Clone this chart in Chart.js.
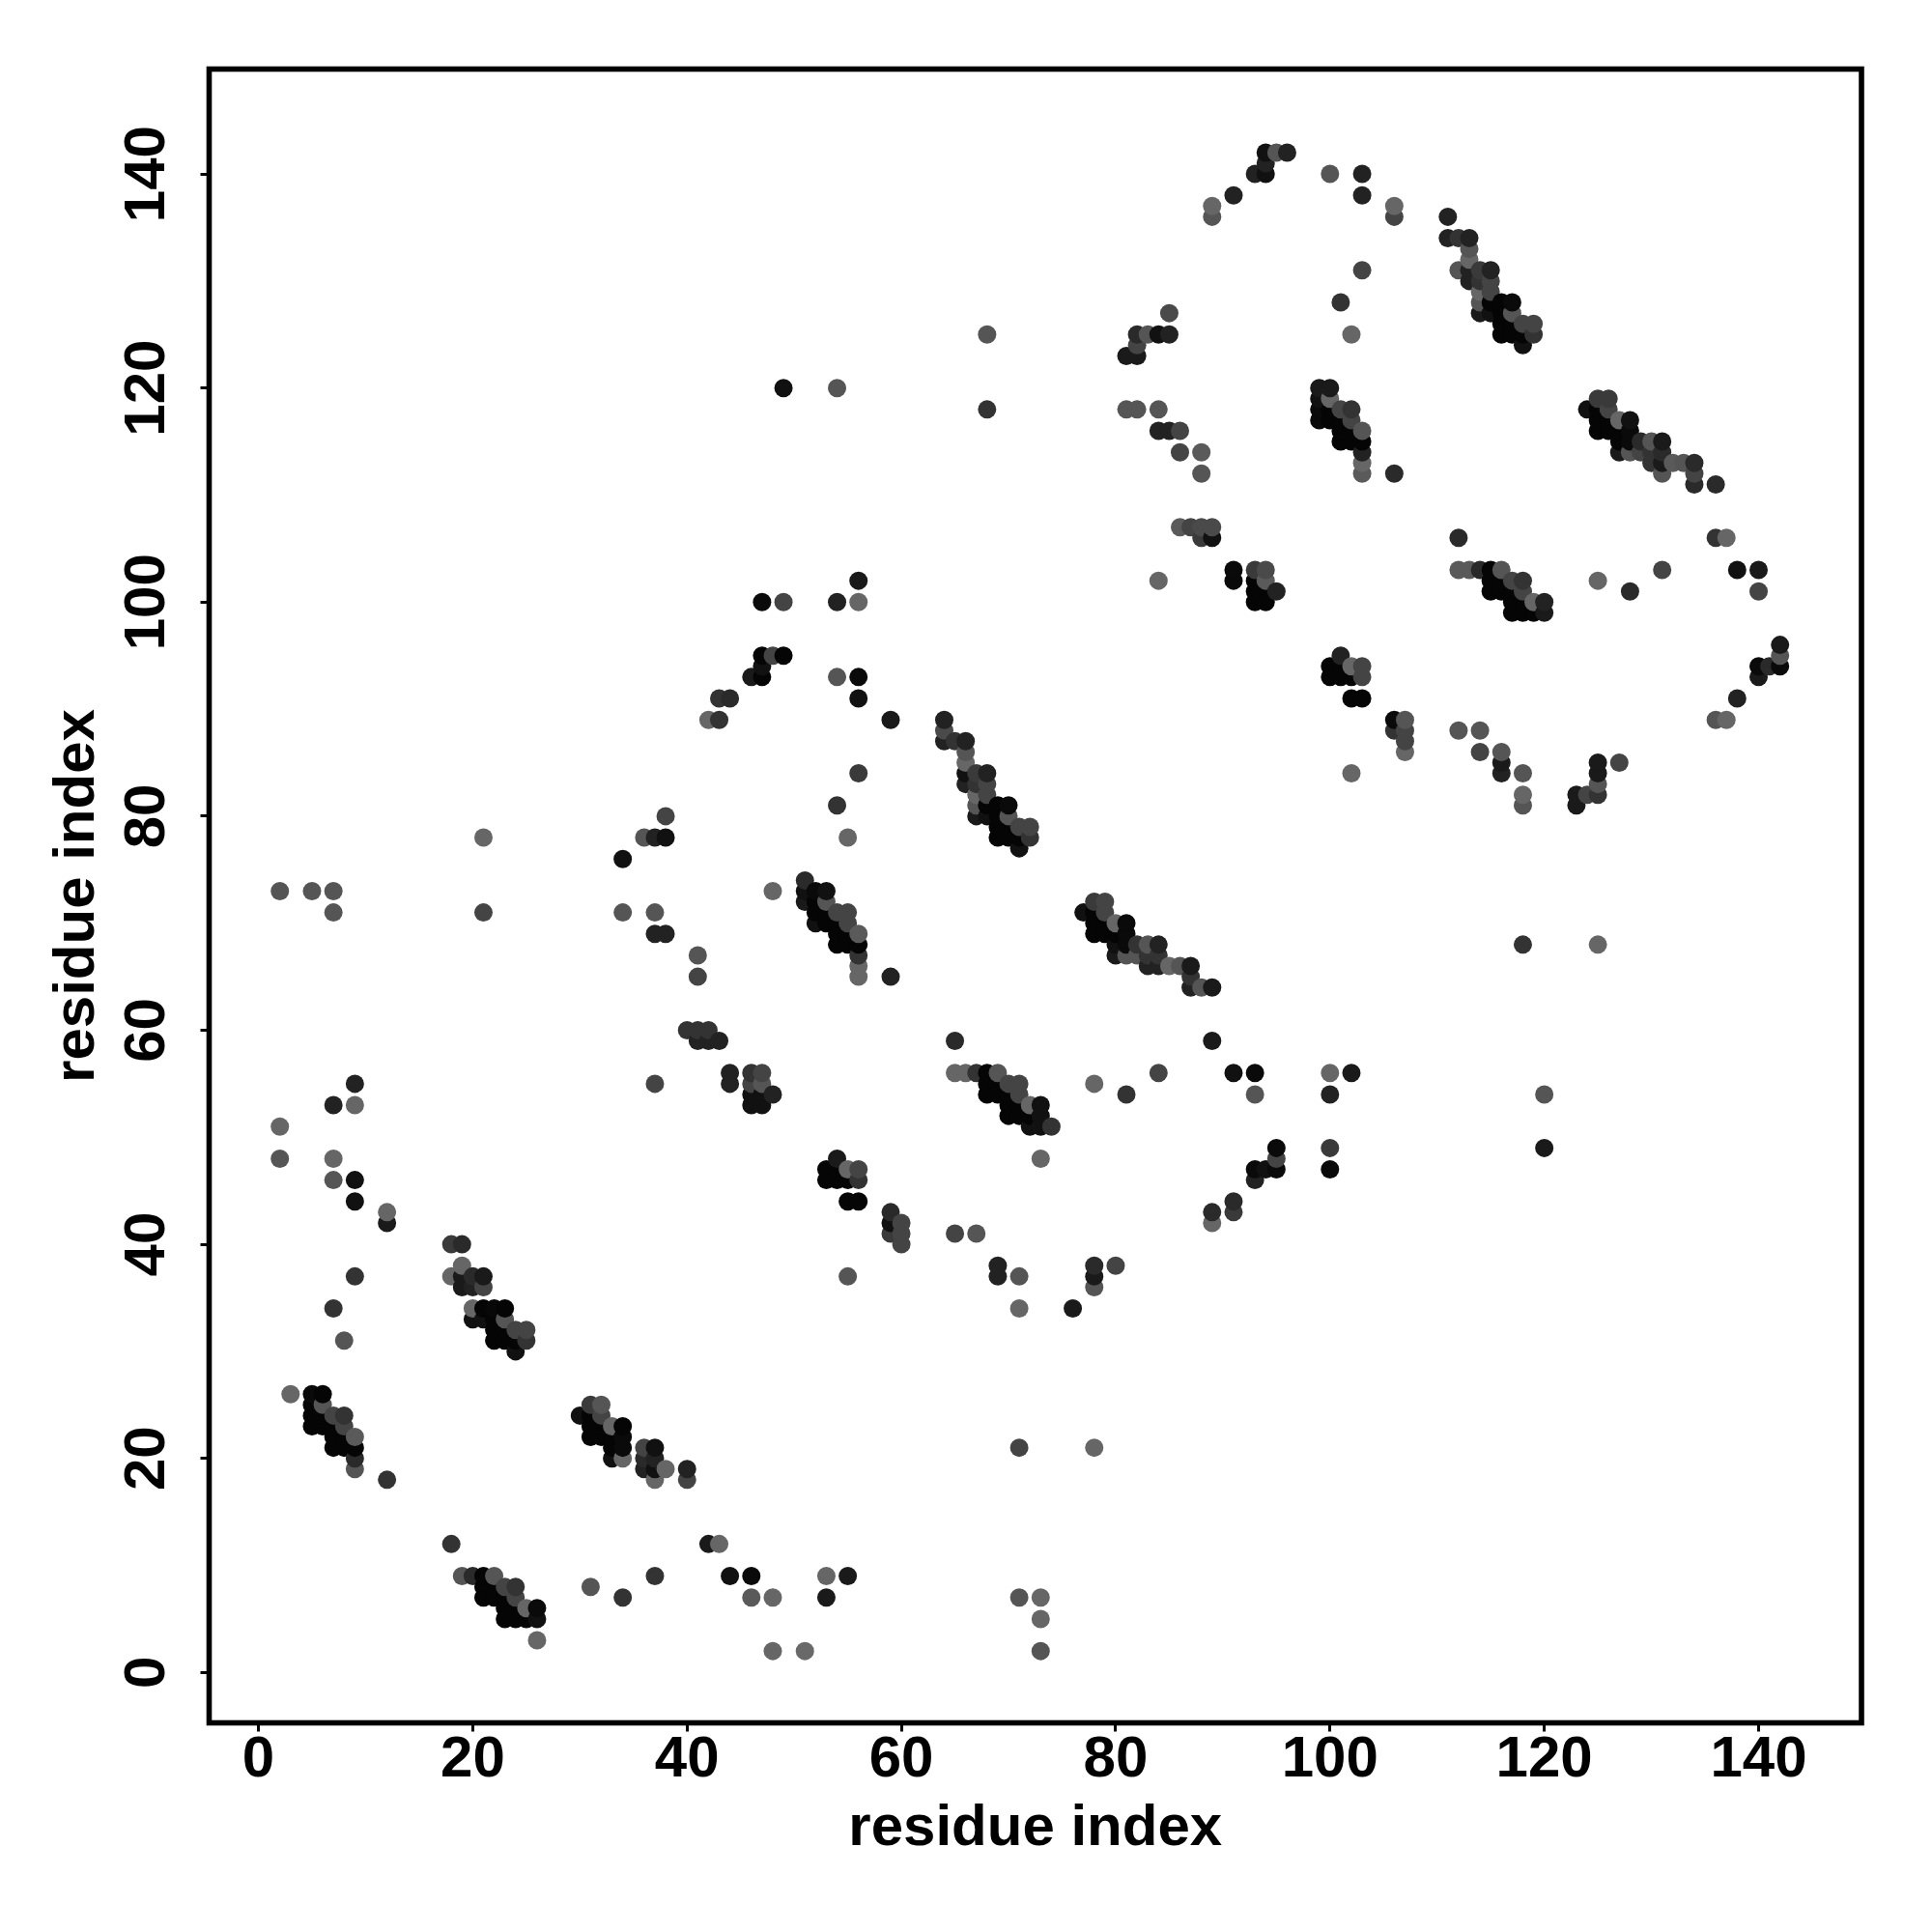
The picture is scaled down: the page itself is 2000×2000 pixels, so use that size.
<!DOCTYPE html>
<html>
<head>
<meta charset="utf-8">
<style>html,body{margin:0;padding:0;background:#fff}canvas{display:block}</style>
<script src="https://cdn.jsdelivr.net/npm/chart.js@4"></script>
</head>
<body>
<canvas id="c" width="2000" height="2000"></canvas>
<script>
const axisTicks = [0,20,40,60,80,100,120,140];
const axisTitle = "residue index";

const residueX = [
2,5,7,7,21,21,2,2,7,7,7,9,9,9,9,12,12,9,7,8,12,3,
5,6,6,7,8,8,9,9,9,9,5,5,5,6,6,7,7,7,8,8,
18,19,19,18,19,20,21,19,20,21,20,21,22,23,20,21,22,23,24,25,22,23,22,23,24,25,24,
18,19,20,21,22,21,21,22,22,23,24,24,23,23,23,24,24,25,25,26,26,26,31,34,37,
30,31,32,32,33,34,31,31,31,32,32,33,34,34,33,33,34,36,37,36,37,36,37,38,37,40,40,
42,43,44,46,46,48,48,51,53,55,53,71,71,71,73,73,73,78,
34,34,37,36,37,38,38,37,38,41,41,37,
56,47,49,54,56,47,48,49,47,47,46,54,56,56,43,44,42,43,59,56,54,55,48,49,54,68,68,
64,64,64,65,66,66,66,66,66,67,68,68,67,68,67,67,67,68,68,69,70,69,70,71,72,69,70,69,70,71,72,71,
51,51,51,52,53,52,53,52,52,53,53,54,55,55,54,54,54,55,55,56,56,56,56,56,59,
77,78,79,79,80,81,78,78,78,79,79,80,81,81,80,80,81,82,83,84,82,83,84,83,84,85,86,87,87,87,88,89,
65,89,65,66,67,68,69,70,71,71,72,73,68,68,69,69,70,70,70,71,71,72,72,73,73,74,73,
78,81,84,91,93,93,100,102,100,100,100,95,95,95,94,93,93,120,120,118,125,
40,41,42,41,42,43,44,44,46,47,46,47,48,46,47,46,47,
54,53,55,56,54,53,54,55,56,55,56,59,59,60,59,60,60,55,
65,67,69,69,71,76,78,80,78,78,89,89,91,91,
85,82,83,84,85,82,81,82,81,82,84,84,85,86,86,88,88,101,102,103,
99,100,99,100,99,99,100,100,101,102,102,103,101,101,101,102,102,103,103,103,103,106,
86,87,88,89,88,89,84,91,91,93,94,94,93,93,94,95,93,94,
112,112,113,114,115,116,115,115,116,116,117,118,118,117,117,117,118,118,119,120,119,120,
101,100,100,101,101,102,102,103,103,102,103,
111,111,112,113,113,113,112,113,113,114,115,115,114,115,114,114,114,115,115,116,117,116,117,118,119,116,117,116,117,118,119,118,
124,125,126,126,127,128,125,125,125,126,126,127,128,127,128,127,128,129,130,131,129,130,131,130,131,131,132,133,134,134,134,136,
136,137,125,138,140,140,128,131,142,142,142,141,140,140,138,136,137,
106,107,106,107,107,107,102,112,114,114,116,116,116,118,118,118,123,123,124,125,125,125,125,127,
106,106,100,103,103,91,89,89,93,94,94,94,95,96
];

const residueY = [
73,73,73,71,78,71,51,48,53,48,46,55,53,46,44,43,42,37,34,31,18,26,
26,26,25,24,24,23,22,21,20,19,25,24,23,23,24,23,22,21,21,22,
40,40,38,37,37,37,37,36,36,36,34,34,34,34,33,33,33,33,32,32,32,32,31,31,31,31,30,
12,9,9,9,9,8,7,8,7,8,8,7,7,6,5,6,5,6,5,6,5,3,8,7,9,
24,25,25,24,23,23,24,23,22,23,22,22,22,21,21,20,20,21,21,20,20,19,19,19,18,19,18,
12,12,9,9,7,7,2,2,9,9,7,34,21,7,7,5,2,21,
76,71,71,78,78,78,80,69,69,67,65,55,
102,100,100,100,100,95,95,95,94,93,93,93,93,91,91,91,89,89,89,84,81,78,73,120,120,125,118,
89,88,87,87,87,86,85,84,83,84,84,83,83,82,82,81,80,80,81,81,81,80,80,79,79,79,79,78,78,78,78,77,
74,73,72,73,73,72,72,71,70,71,70,71,71,70,70,69,68,69,68,69,68,67,66,65,65,
71,72,72,71,70,70,71,70,69,70,69,69,69,68,68,67,67,68,68,68,67,67,67,66,66,66,66,66,65,64,64,64,
59,59,56,56,56,56,56,55,55,54,53,53,55,54,55,54,54,53,52,53,52,52,51,52,51,51,48,
55,54,56,56,56,54,56,56,54,49,47,49,48,47,47,47,46,54,49,68,68,
60,60,60,59,59,59,56,55,56,56,55,55,54,54,54,53,53,
48,47,47,47,47,46,46,46,46,44,44,43,42,42,41,41,40,37,
41,41,38,37,37,34,38,38,37,36,43,42,44,43,
127,125,125,125,125,124,123,123,118,118,118,116,116,116,114,114,112,128,125,131,
120,120,119,119,118,117,118,117,118,118,117,116,117,116,115,116,115,115,114,113,112,112,
107,107,107,107,106,106,102,103,102,103,103,102,102,101,101,101,100,100,
106,103,103,103,103,103,102,101,102,101,102,102,101,101,100,99,100,99,100,100,99,99,
95,94,93,94,93,94,93,94,93,91,91,
136,134,134,134,133,132,131,131,130,131,131,130,130,129,129,128,127,128,127,128,128,127,127,126,126,126,126,125,125,125,125,124,
118,119,119,118,117,117,118,117,116,117,116,116,116,115,115,114,114,115,115,115,114,114,114,113,113,112,113,113,113,112,111,111,
106,106,102,103,103,101,101,103,96,95,94,94,94,93,91,89,89,
89,89,88,88,87,86,84,88,88,86,86,85,84,84,82,81,82,81,82,82,83,84,85,85,
137,136,140,140,138,138,137,136,140,140,141,142,142,142
];

const shade = [
85,85,85,85,102,68,102,85,34,102,85,34,102,17,17,102,26,51,51,85,51,102,
10,5,85,68,51,68,90,5,42,85,5,5,5,5,5,5,5,5,5,5,
58,42,102,102,26,42,26,26,34,68,102,5,8,5,17,17,5,85,68,68,5,5,5,5,5,51,17,
51,85,42,5,85,5,5,5,5,68,51,68,5,5,5,5,5,102,5,10,17,102,85,51,51,
17,58,85,68,102,5,5,5,5,5,5,5,10,10,5,17,102,68,17,42,34,34,17,102,102,34,68,
26,102,17,10,90,102,102,105,102,26,26,102,68,85,102,102,85,102,
17,85,85,85,34,17,68,34,34,85,68,68,
26,10,68,34,102,5,68,5,17,5,26,85,10,17,51,42,102,51,26,58,51,102,102,17,85,85,51,
34,74,34,51,34,85,102,17,34,58,34,68,51,68,102,85,26,17,5,5,10,5,85,68,68,5,5,5,5,5,51,17,
42,17,26,10,17,5,85,5,17,5,5,68,68,68,5,5,5,5,5,90,5,51,102,102,34,
17,58,68,68,102,10,5,5,5,5,5,5,10,10,17,26,85,51,85,34,85,51,51,34,34,102,85,26,51,34,85,26,
42,26,102,102,51,5,85,68,68,68,102,17,5,5,5,5,5,5,5,5,5,5,17,17,17,51,102,
102,51,68,17,10,85,102,26,34,58,10,10,68,10,17,10,34,85,26,51,102,
51,51,51,34,34,34,34,34,51,68,68,85,34,17,17,17,17,
26,5,102,68,5,5,5,5,51,5,5,42,17,68,58,68,68,85,
68,85,34,34,85,26,42,68,26,85,42,102,42,58,
74,42,85,17,34,68,26,26,85,85,85,34,34,68,68,90,85,51,102,68,
26,26,17,102,10,10,5,5,68,51,68,85,5,5,5,5,5,5,34,102,90,42,
90,68,74,74,58,17,102,10,10,58,74,90,5,5,5,34,5,5,
42,90,90,42,5,85,5,5,5,5,68,51,68,5,5,5,5,5,102,34,5,26,
34,5,5,5,5,102,5,68,68,5,5,
34,34,51,34,85,102,85,34,34,58,34,68,51,68,102,85,26,5,17,5,10,5,85,68,68,5,5,5,5,5,51,17,
17,58,58,68,102,17,5,5,5,5,5,5,10,5,10,26,85,42,85,26,68,51,42,51,26,85,90,85,42,68,42,42,
51,102,102,17,26,68,42,68,26,85,10,42,10,26,34,85,102,
10,85,51,68,68,102,102,85,85,68,85,26,34,85,102,85,26,26,68,51,85,26,26,68,
102,68,85,34,34,34,102,85,34,17,34,17,85,34
];

// Paint order: lower residue index first, so later marks overlap earlier ones.
const order = residueX.map((_, i) => i).sort((a, b) =>
  residueX[a] - residueX[b] || residueY[a] - residueY[b]);

const points = order.map(i => ({ x: residueX[i], y: residueY[i] }));
const colours = order.map(i => `rgb(${shade[i]},${shade[i]},${shade[i]})`);

const frame = {
  id: 'frame',
  afterDatasetsDraw(chart) {
    const { ctx, chartArea: a } = chart;
    ctx.save();
    ctx.strokeStyle = '#000';
    ctx.lineWidth = 5.6;
    ctx.lineJoin = 'miter';
    ctx.strokeRect(a.left, a.top, a.right - a.left, a.bottom - a.top);
    ctx.restore();
  }
};

const labelFont = { family: '"Liberation Sans", Arial, sans-serif', weight: 'bold', size: 60 };

function axis(extra) {
  return Object.assign({
    type: 'linear',
    border: { display: false },
    grid: { drawOnChartArea: false, drawTicks: true, tickLength: 9, tickWidth: 3, tickColor: '#000' },
    afterBuildTicks(s) { s.ticks = axisTicks.map(v => ({ value: v })); }
  }, extra);
}

new Chart(document.getElementById('c'), {
  type: 'scatter',
  data: { datasets: [{
    data: points,
    backgroundColor: colours,
    borderWidth: 0,
    pointRadius: 9.5,
    pointHoverRadius: 9.5
  }] },
  plugins: [frame],
  options: {
    responsive: false,
    animation: false,
    layout: { padding: { top: 71.5, right: 73, bottom: 0, left: 0 } },
    plugins: { legend: { display: false }, tooltip: { enabled: false } },
    scales: {
      x: axis({
        min: -4.6, max: 149.6,
        ticks: { color: '#000', font: labelFont, padding: -6, autoSkip: false, maxRotation: 0, minRotation: 0 },
        title: { display: true, text: axisTitle, color: '#000', font: labelFont, padding: { top: 0, bottom: 71 } },
        afterFit(s) { s.height = 216.5; }
      }),
      y: axis({
        min: -4.71, max: 149.8,
        ticks: { color: '#000', font: labelFont, padding: 4, autoSkip: false, minRotation: 90, maxRotation: 90, crossAlign: 'center' },
        title: { display: true, text: axisTitle, color: '#000', font: labelFont, padding: { top: 44, bottom: 0 } },
        afterFit(s) { s.width = 216.5; }
      })
    }
  }
});
</script>
</body>
</html>
